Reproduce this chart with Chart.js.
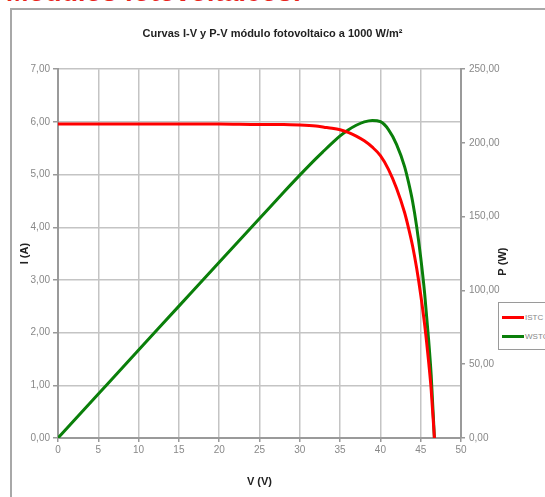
<!DOCTYPE html>
<html>
<head>
<meta charset="utf-8">
<script src="https://cdn.jsdelivr.net/npm/chart.js@4/dist/chart.umd.min.js"></script>
<style>
  html, body { margin: 0; padding: 0; background: #fff; overflow: hidden; }
  #wrap { position: relative; width: 545px; height: 497px; overflow: hidden; }
  #cabecera {
    position: absolute; left: 6px; top: -21px; white-space: nowrap;
    font: bold 27px "Liberation Sans", Arial, sans-serif; color: #e8241c; line-height: 27px;
  }
  #marco {
    position: absolute; left: 10px; top: 8px; width: 700px; height: 700px;
    border: 2px solid #a8a8a8;
  }
  #grafico1 { position: absolute; left: 0; top: 0; }
  #leyenda {
    position: absolute; left: 498px; top: 302px; width: 80px; height: 46px;
    border: 1px solid #9a9a9a; background: #fff;
    font: 8px "Liberation Sans Narrow", "Liberation Sans", Arial, sans-serif; color: #888;
  }
  .item { position: absolute; left: 3px; height: 10px; line-height: 10px; }
  .item span.linea { display: inline-block; width: 22px; height: 3px; vertical-align: middle; margin-right: 1px; }
</style>
</head>
<body>
<div id="wrap">
  <div id="cabecera">Módulos fotovoltaicos:</div>
  <div id="marco"></div>
  <canvas id="grafico1" width="545" height="497"></canvas>
  <div id="leyenda">
    <div class="item" style="top:10px"><span class="linea" style="background:#ff0000"></span>ISTC</div>
    <div class="item" style="top:29px"><span class="linea" style="background:#0a7f0a"></span>WSTC</div>
  </div>
</div>
<script>
// tension (V)
const voltajes = [0, 5, 10, 15, 20, 25, 28, 30, 32, 33, 34, 35, 36, 37, 38, 39, 40, 41, 42, 43, 43.5, 44, 44.5, 45, 45.5, 46, 46.3, 46.7];
// corriente I (A)
const corriente = [5.96, 5.96, 5.96, 5.96, 5.96, 5.95, 5.95, 5.94, 5.92, 5.90, 5.88, 5.85, 5.80, 5.73, 5.64, 5.52, 5.36, 5.10, 4.74, 4.28, 3.98, 3.64, 3.22, 2.72, 2.14, 1.42, 0.92, 0];
// potencia P (W)
const potencia = [0, 29.8, 59.6, 89.4, 119.2, 148.8, 166.6, 178.2, 189.4, 194.7, 199.9, 204.8, 208.8, 212.0, 214.3, 215.3, 214.4, 209.1, 199.1, 184.0, 173.1, 160.2, 143.3, 122.4, 97.4, 65.3, 42.6, 0];

const ticksX = [0, 5, 10, 15, 20, 25, 30, 35, 40, 45, 50];

const fuenteNarrow = "'Liberation Sans Narrow', 'Liberation Sans', Arial, sans-serif";

const puntosI = voltajes.map((v, i) => ({ x: v, y: corriente[i] }));
const puntosP = voltajes.map((v, i) => ({ x: v, y: potencia[i] }));

function fmtComa(v) {
    return v.toFixed(2).replace(".", ",");
}

// titulo del eje derecho, leido de abajo hacia arriba
const tituloDerecho = {
    id: "tituloDerecho",
    afterDraw(chart) {
        const ctx = chart.ctx;
        const area = chart.chartArea;
        ctx.save();
        ctx.translate(503, (area.top + area.bottom) / 2 + 8);
        ctx.rotate(-Math.PI / 2);
        ctx.font = "bold 11px " + fuenteNarrow;
        ctx.fillStyle = "#222";
        ctx.textAlign = "center";
        ctx.textBaseline = "middle";
        ctx.fillText("P (W)", 0, 0);
        ctx.restore();
    }
};

const ctx1 = document.getElementById("grafico1").getContext("2d");
new Chart(ctx1, {
    type: "line",
    data: {
        datasets: [{
            label: "ISTC",
            data: puntosI,
            yAxisID: "yI",
            borderColor: "#ff0000",
            borderWidth: 3,
            pointRadius: 0,
            cubicInterpolationMode: "monotone",
            fill: false,
        }, {
            label: "WSTC",
            data: puntosP,
            yAxisID: "yP",
            borderColor: "#0a7f0a",
            borderWidth: 3,
            pointRadius: 0,
            cubicInterpolationMode: "monotone",
            fill: false,
        }],
    },
    options: {
        responsive: false,
        animation: false,
        layout: { padding: { left: 0, right: 0, top: 0, bottom: 0 } },
        plugins: {
            legend: { display: false },
            tooltip: { enabled: false },
            title: {
                display: true,
                text: "Curvas I-V y P-V módulo fotovoltaico a 1000 W/m²",
                color: "#222",
                font: { family: fuenteNarrow, size: 11, weight: "bold" },
                padding: { top: 27, bottom: 29 },
            },
        },
        scales: {
            x: {
                type: "linear",
                min: 0,
                max: 50,
                afterFit(s) { s.height = 59; },
                afterBuildTicks(s) { s.ticks = ticksX.map(v => ({ value: v })); },
                ticks: {
                    color: "#888",
                    font: { family: fuenteNarrow, size: 10 },
                    padding: 2,
                    maxRotation: 0,
                },
                grid: { color: "#c4c4c4", lineWidth: 1.5, tickLength: 4, tickColor: "#999" },
                border: { color: "#9a9a9a", width: 2 },
                title: {
                    display: true,
                    text: "V (V)",
                    color: "#222",
                    font: { family: fuenteNarrow, size: 11, weight: "bold" },
                    padding: { top: 2, bottom: 8 },
                },
            },
            yI: {
                type: "linear",
                position: "left",
                min: 0,
                max: 7,
                afterFit(s) { s.width = 58; },
                ticks: {
                    stepSize: 1,
                    color: "#888",
                    font: { family: fuenteNarrow, size: 10 },
                    padding: 3,
                    callback: v => fmtComa(v),
                },
                grid: { color: "#c4c4c4", lineWidth: 1.5, tickLength: 5, tickColor: "#999" },
                border: { color: "#9a9a9a", width: 2 },
                title: {
                    display: true,
                    text: "I (A)",
                    color: "#222",
                    font: { family: fuenteNarrow, size: 11, weight: "bold" },
                    padding: { top: 18, bottom: 0 },
                },
            },
            yP: {
                type: "linear",
                position: "right",
                min: 0,
                max: 250,
                afterFit(s) { s.width = 84; },
                ticks: {
                    stepSize: 50,
                    color: "#888",
                    font: { family: fuenteNarrow, size: 10 },
                    padding: 4,
                    callback: v => fmtComa(v),
                },
                grid: { drawOnChartArea: false, tickLength: 4, tickColor: "#999", lineWidth: 1.5 },
                border: { color: "#9a9a9a", width: 2 },
            },
        },
    },
    plugins: [tituloDerecho],
});
</script>
</body>
</html>
